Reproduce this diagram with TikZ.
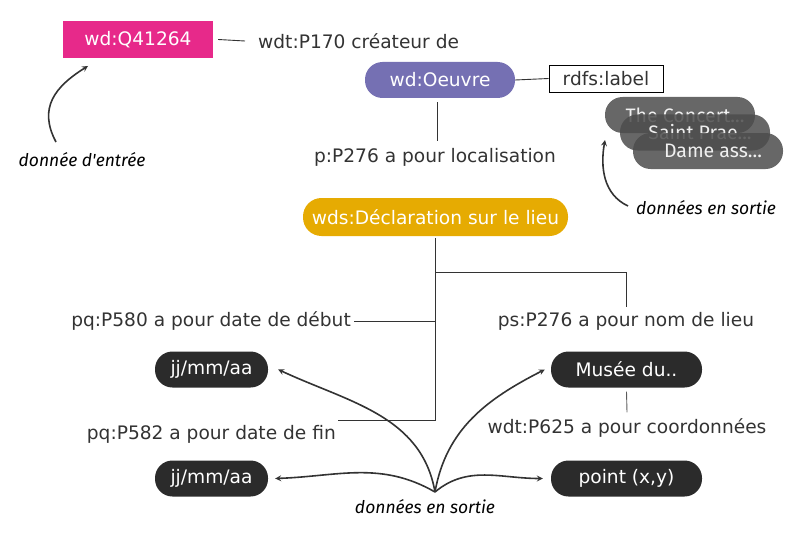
\documentclass[tikz,border=0pt]{standalone}
\usepackage{fontspec}
\setmainfont{DejaVu Sans}
\newfontfamily\notefont{Fira Sans}
\usetikzlibrary{calc,shapes,arrows}

\definecolor{qpink}{HTML}{E7298A}
\definecolor{oeuvreblue}{HTML}{7570B3}
\definecolor{lieugold}{HTML}{E6AB02}
\definecolor{valdark}{HTML}{2B2B2B}
\definecolor{txtdark}{HTML}{333333}

\tikzset{
  prop/.style={text=txtdark, font=\fontsize{18.6}{22}\selectfont, inner sep=3pt},
  pill/.style={rounded corners=17.5pt, minimum height=36pt, text=white,
    font=\fontsize{18.6}{22}\selectfont},
  outval/.style={pill, fill=valdark, minimum width=150pt},
  labval/.style={pill, fill=black!70, fill opacity=0.85, text opacity=0.9,
    minimum width=150pt, font=\notefont\fontsize{19.5}{23}\selectfont},
  note/.style={text=black, font=\notefont\itshape\fontsize{17.5}{21}\selectfont},
  link/.style={draw=txtdark, line width=0.9pt},
  pointer/.style={-stealth, draw=txtdark, line width=1.6pt}
}

\begin{document}
\begin{tikzpicture}[x=1pt, y=-1pt]
    \useasboundingbox (0,0) rectangle (794,559);

    % entree
    \node[fill=qpink, text=white, minimum width=150pt, minimum height=37pt,
      font=\fontsize{18.6}{22}\selectfont] (q) at (138,39.5) {wd:Q41264};
    \node[prop, anchor=west] (createur) at (255,41) {wdt:P170 créateur de};
    \draw[link] ([xshift=5pt]q.east) -- ([xshift=-10pt]createur.west);

    \node[pill, fill=oeuvreblue, minimum width=150pt] (oeuvre) at (440,80) {wd:Oeuvre};
    \node[prop, draw=black, fill=white, minimum width=114pt, minimum height=27pt,
      line width=0.9pt] (rdfs) at (606,78.5) {rdfs:label};
    \draw[link] (oeuvre.east) -- (rdfs.west);

    % libelles
    \node[labval] (concert) at (680,115) {\hspace*{10pt}The Concert...};
    \node[labval] (saint) at (695,132.5) {\hspace*{10pt}Saint Prae...};
    \node[labval] (dame) at (708,151) {\hspace*{10pt}Dame ass...};

    \node[prop] (loc) at (435,157) {p:P276 a pour localisation};
    \draw[link] ([yshift=-4pt]oeuvre.south -| loc.north) ++(2,0) -- ([xshift=2pt,yshift=4pt]loc.north);

    \node[pill, fill=lieugold, minimum width=265pt, minimum height=38pt,
      rounded corners=18.5pt] (decl) at (435.5,217) {wds:Déclaration sur le lieu};

    % qualificatifs
    \node[prop, anchor=east] (debut) at (354,321) {pq:P580 a pour date de début};
    \node[prop] (nomlieu) at (626,321) {ps:P276 a pour nom de lieu};
    \node[prop, anchor=east] (fin) at (339,434) {pq:P582 a pour date de fin};
    \node[prop] (coords) at (627,428) {wdt:P625 a pour coordonnées};

    \coordinate (branch) at (435,272);
    \coordinate (trunk) at (435,420);
    \coordinate (finend) at (338,420);
    \draw[link] ([yshift=-2pt]decl.south -| branch) -- (trunk) -- (finend);
    \draw[link] (branch) -| ([yshift=2pt]nomlieu.north);
    \draw[link] (debut.east) -- (debut.east -| trunk);

    % valeurs
    \node[outval, minimum width=113pt] (datea) at (211.5,369.5) {jj/mm/aa};
    \node[outval, minimum width=113pt] (dateb) at (211.5,478.5) {jj/mm/aa};
    \node[outval, minimum width=151pt] (musee) at (626.5,369.5) {Musée du..};
    \node[outval, minimum width=151pt] (point) at (626.5,478.5) {point (x,y)};
    \draw[link, draw=txtdark!80] ([yshift=-4pt]musee.south) -- ([yshift=3pt]coords.north);

    % annotations
    \node[note] (entree) at (82,160) {donnée d'entrée};
    \coordinate (entreefrom) at (56,142);
    \coordinate (entreeto) at (88,66);
    \draw[pointer] (entreefrom) to[out=118,in=212,looseness=1.2] (entreeto);

    \node[note] (sortiehaut) at (706,208) {données en sortie};
    \coordinate (sortiefrom) at (628,206);
    \coordinate (sortieto) at (605,140);
    \draw[pointer] (sortiefrom) to[out=155,in=260] (sortieto);

    \node[note] (sortiebas) at (425,507) {données en sortie};
    \coordinate (src) at (435,492);
    \draw[pointer] (src) to[out=100,in=-25] ([xshift=10pt]datea.east);
    \draw[pointer] (src) to[out=150,in=2] ([xshift=7pt]dateb.east);
    \draw[pointer] (src) to[out=80,in=207] ([xshift=-6pt]musee.west);
    \draw[pointer] (src) to[out=40,in=180] ([xshift=-8pt]point.west);
\end{tikzpicture}
\end{document}
